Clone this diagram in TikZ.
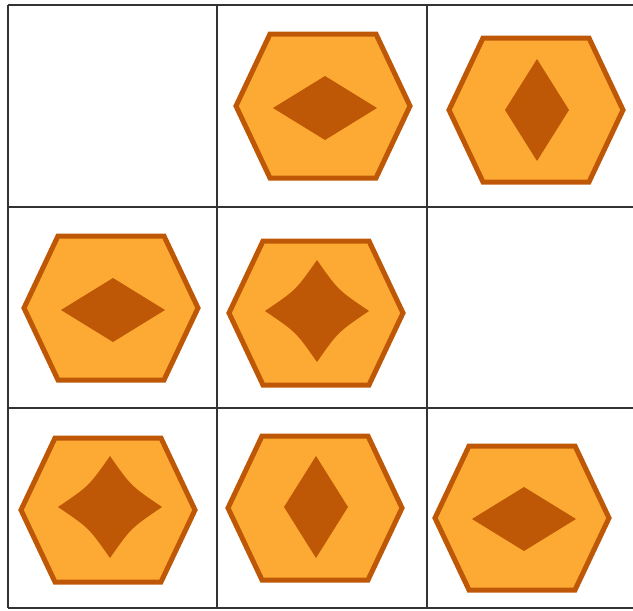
\documentclass[tikz,border=0pt]{standalone}
\definecolor{hexfill}{RGB}{252,170,52}
\definecolor{hexdark}{RGB}{190,88,6}
\tikzset{
  gridline/.style={draw=black!80, line width=1.8},
  hexshape/.style={fill=hexfill, draw=hexdark, line width=5, line join=miter},
  innershape/.style={fill=hexdark, draw=none},
  pics/hexagon/.style={code={
    \path[hexshape] (-87,0)--(-53,-72)--(53,-72)--(87,0)--(53,72)--(-53,72)--cycle;}},
  pics/diamh/.style={code={
    \path[innershape] (-52,0)--(0,-32)--(52,0)--(0,32)--cycle;}},
  pics/diamv/.style={code={
    \path[innershape] (-32,0)--(0,-51)--(32,0)--(0,51)--cycle;}},
  pics/starfour/.style={code={
    \path[innershape] (0,-51) .. controls (21,-21) .. (52,0)
      .. controls (21,21) .. (0,51)
      .. controls (-21,21) .. (-52,0)
      .. controls (-21,-21) .. (0,-51) -- cycle;}},
}
\begin{document}
\begin{tikzpicture}[x=1pt,y=-1pt]
\useasboundingbox (0,0) rectangle (633,611);
% grid
\draw[gridline] (8,5) -- (633,5);
\draw[gridline] (8,207) -- (633,207);
\draw[gridline] (8,408) -- (633,408);
\draw[gridline] (8,608) -- (633,608);
\draw[gridline] (8,5) -- (8,608);
\draw[gridline] (217,5) -- (217,608);
\draw[gridline] (427,5) -- (427,608);
% row 1
\pic (h01) at (323,106) {hexagon};
\pic (d01) at (325,108) {diamh};
\pic (h02) at (536,110) {hexagon};
\pic (d02) at (537,110) {diamv};
% row 2
\pic (h10) at (111,308) {hexagon};
\pic (d10) at (113,310) {diamh};
\pic (h11) at (316,313) {hexagon};
\pic (s11) at (317,311) {starfour};
% row 3
\pic (h20) at (108,510) {hexagon};
\pic (s20) at (110,507) {starfour};
\pic (h21) at (315,508) {hexagon};
\pic (d21) at (316,507) {diamv};
\pic (h22) at (522,518) {hexagon};
\pic (d22) at (524,519) {diamh};
\end{tikzpicture}
\end{document}
